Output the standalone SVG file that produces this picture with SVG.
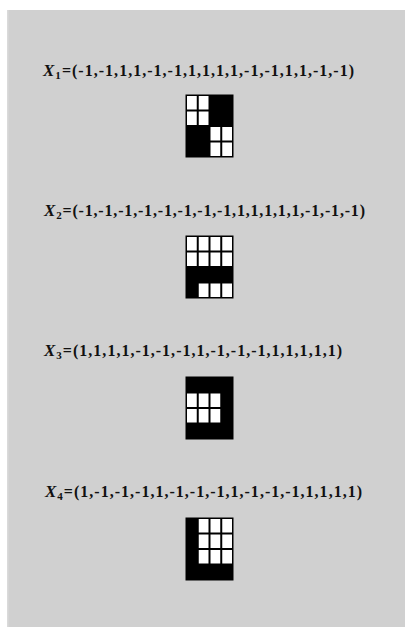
<svg xmlns="http://www.w3.org/2000/svg" width="405" height="627" viewBox="0 0 405 627">
<style>
.lbl{font-family:"Liberation Serif","Times New Roman",serif;font-size:16px;font-weight:bold;fill:#111}
.var{font-style:italic;font-size:17px}
.sub{font-size:11px;font-weight:bold;font-style:normal}
.base{fill:#000;stroke:#000;stroke-width:1}
.w{fill:#fff}
</style>
<rect x="0" y="0" width="405" height="627" fill="#fff"/>
<rect x="7" y="10" width="398" height="617" fill="#d0d0d0"/>
<rect x="7" y="10" width="1.5" height="617" fill="#dadada"/>

<g id="label1"><text class="lbl" x="43" y="76" textLength="311" lengthAdjust="spacing"><tspan class="var">X</tspan><tspan class="sub" dy="3">1</tspan><tspan dy="-3">=(-1,-1,1,1,-1,-1,1,1,1,1,-1,-1,1,1,-1,-1)</tspan></text></g>
<g id="grid1">
<rect class="base" x="186" y="95" width="47" height="62"/>
<rect class="w" x="187" y="96" width="9.75" height="13.5"/>
<rect class="w" x="198.75" y="96" width="9.75" height="13.5"/>
<rect class="w" x="187" y="111.5" width="9.75" height="13.5"/>
<rect class="w" x="198.75" y="111.5" width="9.75" height="13.5"/>
<rect class="w" x="210.5" y="127" width="9.75" height="13.5"/>
<rect class="w" x="222.25" y="127" width="9.75" height="13.5"/>
<rect class="w" x="210.5" y="142.5" width="9.75" height="13.5"/>
<rect class="w" x="222.25" y="142.5" width="9.75" height="13.5"/>
</g>

<g id="label2"><text class="lbl" x="44" y="216" textLength="321" lengthAdjust="spacing"><tspan class="var">X</tspan><tspan class="sub" dy="3">2</tspan><tspan dy="-3">=(-1,-1,-1,-1,-1,-1,-1,-1,1,1,1,1,1,-1,-1,-1)</tspan></text></g>
<g id="grid2">
<rect class="base" x="186" y="236" width="47" height="62"/>
<rect class="w" x="187" y="237" width="9.75" height="13.5"/>
<rect class="w" x="198.75" y="237" width="9.75" height="13.5"/>
<rect class="w" x="210.5" y="237" width="9.75" height="13.5"/>
<rect class="w" x="222.25" y="237" width="9.75" height="13.5"/>
<rect class="w" x="187" y="252.5" width="9.75" height="13.5"/>
<rect class="w" x="198.75" y="252.5" width="9.75" height="13.5"/>
<rect class="w" x="210.5" y="252.5" width="9.75" height="13.5"/>
<rect class="w" x="222.25" y="252.5" width="9.75" height="13.5"/>
<rect class="w" x="198.75" y="283.5" width="9.75" height="13.5"/>
<rect class="w" x="210.5" y="283.5" width="9.75" height="13.5"/>
<rect class="w" x="222.25" y="283.5" width="9.75" height="13.5"/>
</g>

<g id="label3"><text class="lbl" x="44" y="356" textLength="298" lengthAdjust="spacing"><tspan class="var">X</tspan><tspan class="sub" dy="3">3</tspan><tspan dy="-3">=(1,1,1,1,-1,-1,-1,1,-1,-1,-1,1,1,1,1,1)</tspan></text></g>
<g id="grid3">
<rect class="base" x="186" y="377" width="47" height="62"/>
<rect class="w" x="187" y="393.5" width="9.75" height="13.5"/>
<rect class="w" x="198.75" y="393.5" width="9.75" height="13.5"/>
<rect class="w" x="210.5" y="393.5" width="9.75" height="13.5"/>
<rect class="w" x="187" y="409" width="9.75" height="13.5"/>
<rect class="w" x="198.75" y="409" width="9.75" height="13.5"/>
<rect class="w" x="210.5" y="409" width="9.75" height="13.5"/>
</g>

<g id="label4"><text class="lbl" x="45" y="497" textLength="317" lengthAdjust="spacing"><tspan class="var">X</tspan><tspan class="sub" dy="3">4</tspan><tspan dy="-3">=(1,-1,-1,-1,1,-1,-1,-1,1,-1,-1,-1,1,1,1,1)</tspan></text></g>
<g id="grid4">
<rect class="base" x="186" y="518" width="47" height="62"/>
<rect class="w" x="198.75" y="519" width="9.75" height="13.5"/>
<rect class="w" x="210.5" y="519" width="9.75" height="13.5"/>
<rect class="w" x="222.25" y="519" width="9.75" height="13.5"/>
<rect class="w" x="198.75" y="534.5" width="9.75" height="13.5"/>
<rect class="w" x="210.5" y="534.5" width="9.75" height="13.5"/>
<rect class="w" x="222.25" y="534.5" width="9.75" height="13.5"/>
<rect class="w" x="198.75" y="550" width="9.75" height="13.5"/>
<rect class="w" x="210.5" y="550" width="9.75" height="13.5"/>
<rect class="w" x="222.25" y="550" width="9.75" height="13.5"/>
</g>
<g id="connectors"/>
</svg>
